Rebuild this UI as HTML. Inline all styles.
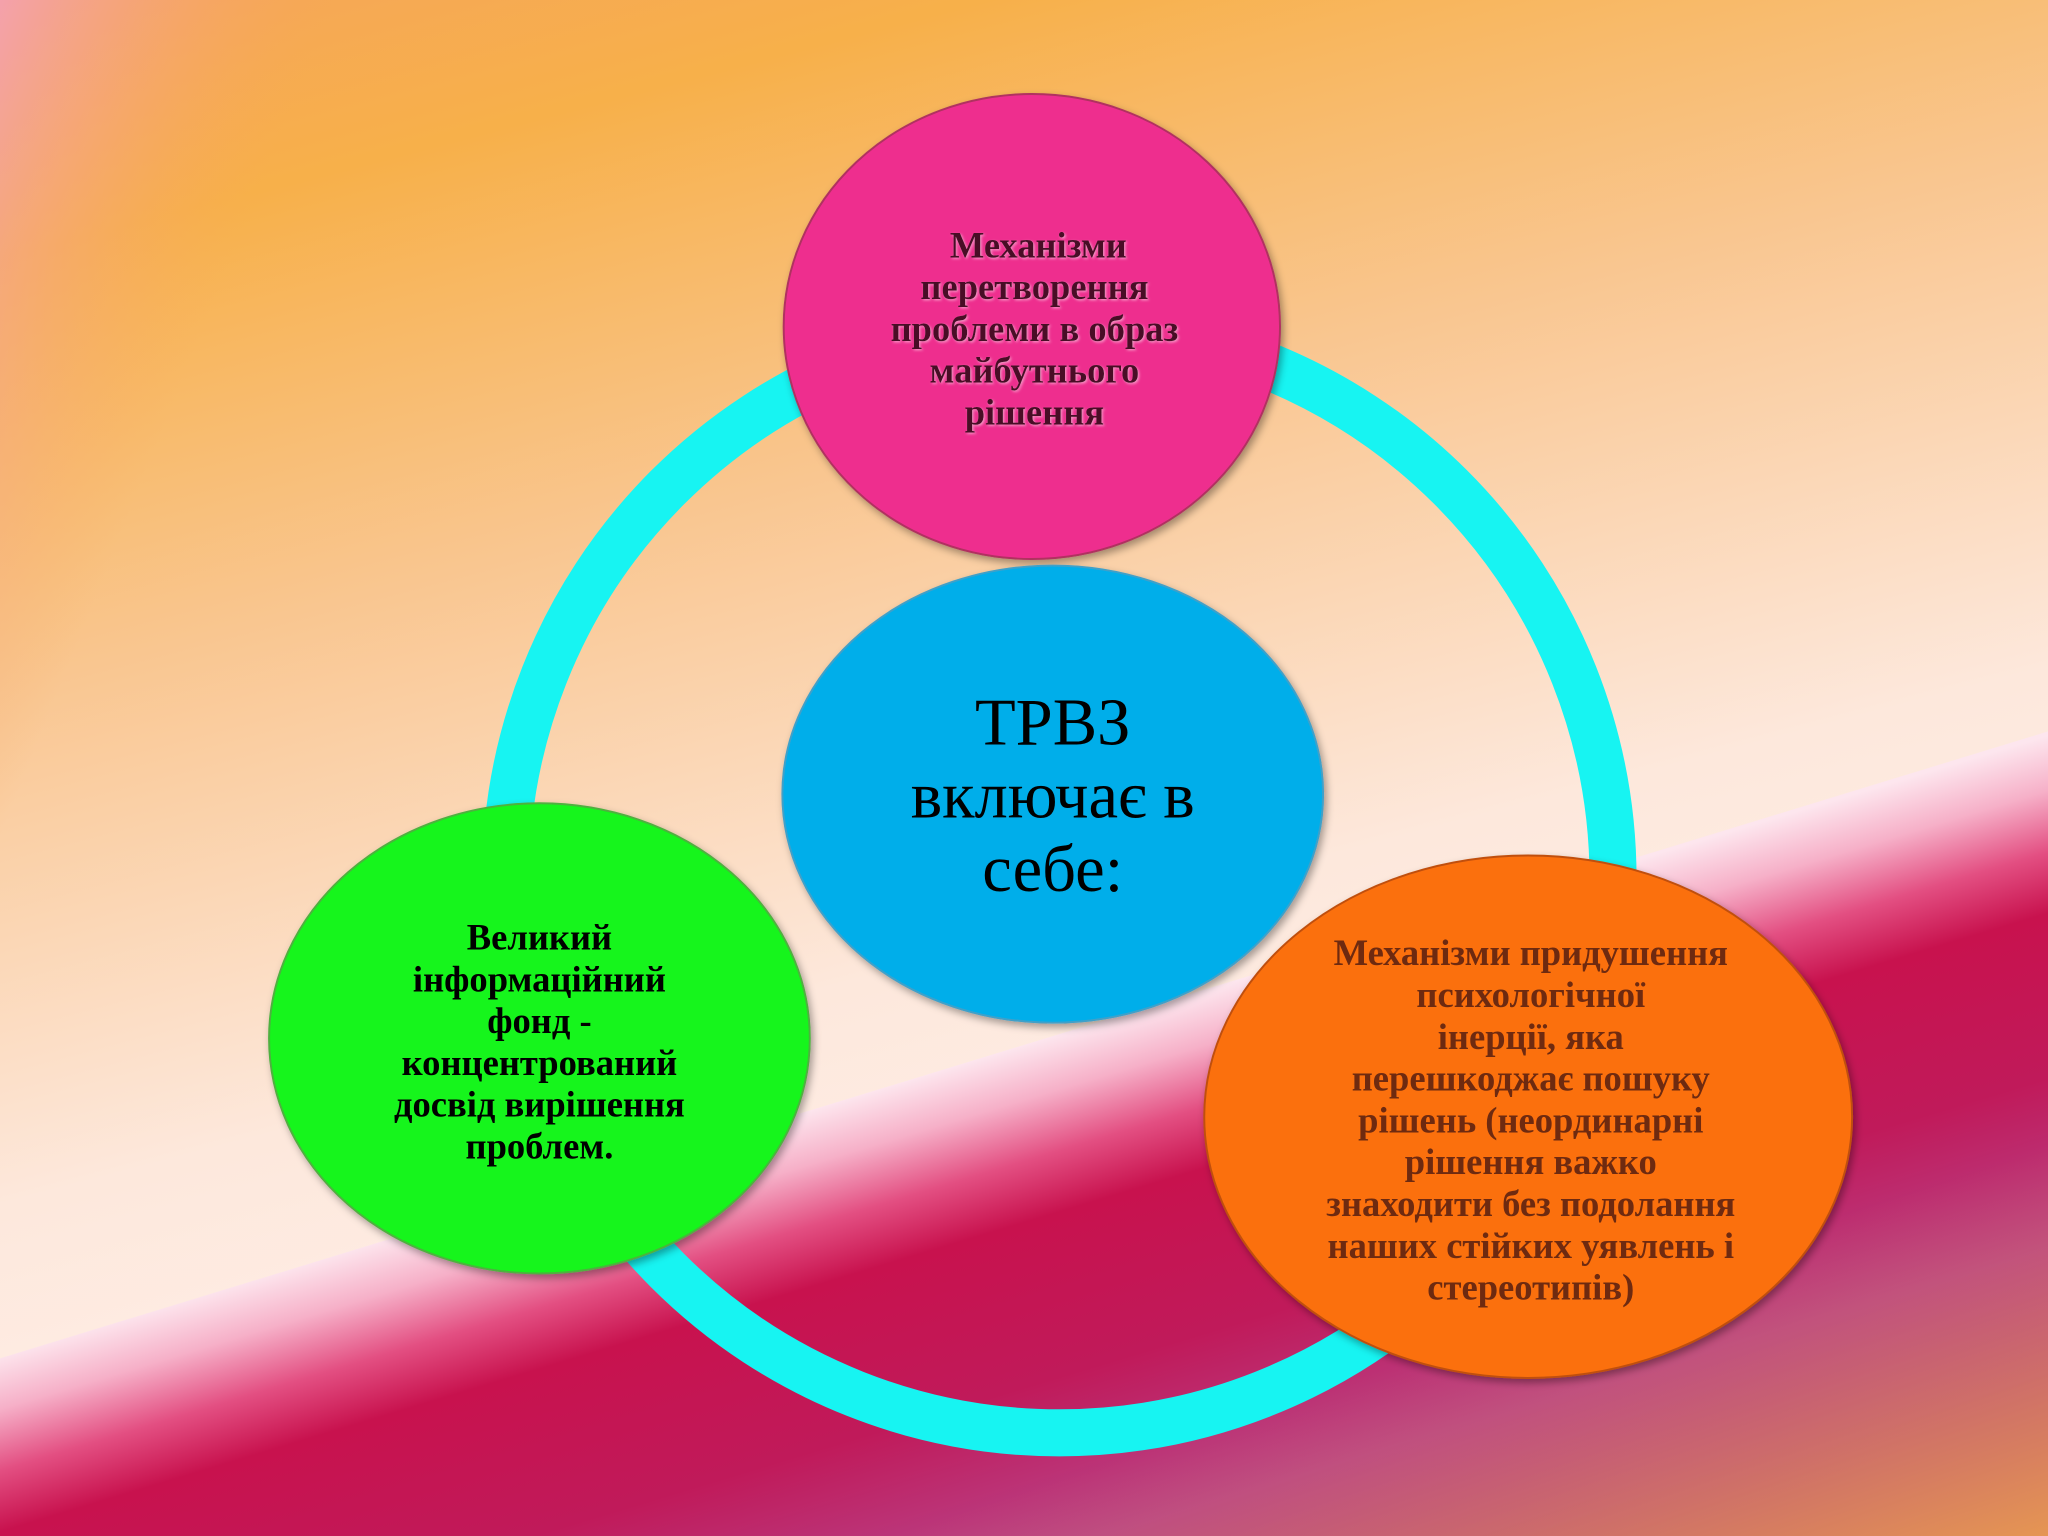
<!DOCTYPE html>
<html><head><meta charset="utf-8">
<style>html,body{margin:0;padding:0;overflow:hidden}svg{display:block}</style></head>
<body>
<svg width="2048" height="1536" viewBox="0 0 1568 1176" xmlns="http://www.w3.org/2000/svg">
<defs>
<linearGradient id="bg" x1="0" y1="0" x2="0.35" y2="1">
<stop offset="0" stop-color="#f6a55a"/>
<stop offset="0.15" stop-color="#f7b04a"/>
<stop offset="0.4" stop-color="#f9c690"/>
<stop offset="0.7" stop-color="#fde8dc"/>
<stop offset="1" stop-color="#fff2ee"/>
</linearGradient>
<linearGradient id="tl" x1="0" y1="0" x2="1" y2="0.3">
<stop offset="0" stop-color="#f3a0c0" stop-opacity="0.8"/>
<stop offset="0.15" stop-color="#f6a55a" stop-opacity="0"/>
</linearGradient>
<linearGradient id="band" gradientUnits="userSpaceOnUse" x1="784" y1="800" x2="929" y2="1280">
<stop offset="0" stop-color="#fde6ee"/>
<stop offset="0.08" stop-color="#f6b0c8"/>
<stop offset="0.17" stop-color="#e34f82"/>
<stop offset="0.26" stop-color="#c8124e"/>
<stop offset="0.5" stop-color="#c01a5a"/>
<stop offset="0.75" stop-color="#b8448a"/>
<stop offset="1" stop-color="#b04a88"/>
</linearGradient>
<linearGradient id="br" x1="0.4" y1="0.3" x2="1" y2="1">
<stop offset="0" stop-color="#e07a50" stop-opacity="0"/>
<stop offset="0.6" stop-color="#e07a50" stop-opacity="0"/>
<stop offset="1" stop-color="#e89a50" stop-opacity="0.95"/>
</linearGradient>
<filter id="sh" x="-10%" y="-10%" width="120%" height="120%"><feDropShadow dx="2" dy="3" stdDeviation="3" flood-opacity="0.35"/></filter>
<filter id="ts"><feDropShadow dx="1" dy="1" stdDeviation="1" flood-color="#ffffff" flood-opacity="0.5"/></filter>
</defs>
<rect width="1568" height="1176" fill="url(#bg)"/>
<rect width="1568" height="1176" fill="url(#tl)"/>
<polygon points="0,1040 1568,560 1568,1176 0,1176" fill="url(#band)"/>
<polygon points="0,1040 1568,560 1568,1176 0,1176" fill="url(#br)"/>
<circle cx="811" cy="673" r="424" fill="none" stroke="#17f4f2" stroke-width="36"/>
<g filter="url(#sh)">
<ellipse cx="790" cy="250" rx="190" ry="178" fill="#ee2f8e" stroke="#b03060" stroke-width="1.5"/>
<ellipse cx="806" cy="608" rx="207" ry="175" fill="#06aeea" stroke="#40a0c8" stroke-width="1.5"/>
<ellipse cx="413" cy="795" rx="207" ry="180" fill="#12f51a" stroke="#50b040" stroke-width="1.5"/>
<ellipse cx="1170" cy="855" rx="248" ry="200" fill="#fb6f0c" stroke="#c05010" stroke-width="1.5"/>
</g>
<g font-family="Liberation Serif, serif" font-weight="bold" font-size="28" text-anchor="middle">
<g fill="#4a0c28" filter="url(#ts)">
<text x="795" y="197">Механізми</text>
<text x="792" y="229">перетворення</text>
<text x="792" y="261">проблеми в образ</text>
<text x="792" y="293">майбутнього</text>
<text x="792" y="325">рішення</text>
</g>
<g fill="#000">
<text x="413" y="727">Великий</text>
<text x="413" y="759">інформаційний</text>
<text x="413" y="791">фонд -</text>
<text x="413" y="823">концентрований</text>
<text x="413" y="855">досвід вирішення</text>
<text x="413" y="887">проблем.</text>
</g>
<g fill="#6e2a10">
<text x="1172" y="739">Механізми придушення</text>
<text x="1172" y="771">психологічної</text>
<text x="1172" y="803">інерції, яка</text>
<text x="1172" y="835">перешкоджає пошуку</text>
<text x="1172" y="867">рішень (неординарні</text>
<text x="1172" y="899">рішення важко</text>
<text x="1172" y="931">знаходити без подолання</text>
<text x="1172" y="963">наших стійких уявлень і</text>
<text x="1172" y="995">стереотипів)</text>
</g>
</g>
<g font-family="Liberation Serif, serif" font-size="51" text-anchor="middle" fill="#000">
<text x="806" y="570">ТРВЗ</text>
<text x="806" y="626">включає в</text>
<text x="806" y="682">себе:</text>
</g>
</svg>
</body></html>
